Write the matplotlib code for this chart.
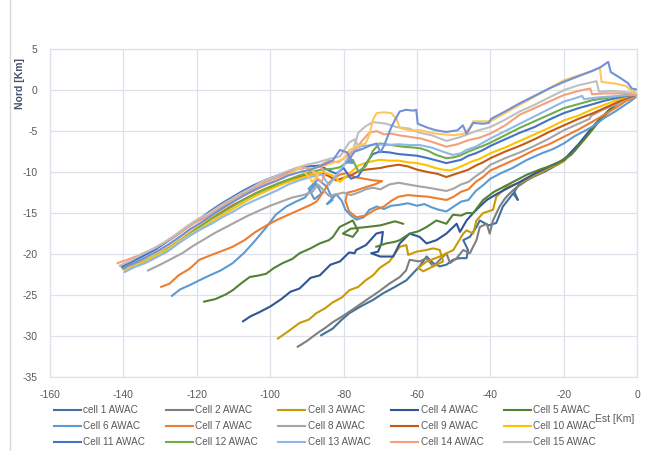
import matplotlib
matplotlib.use("Agg")
import matplotlib.pyplot as plt
from matplotlib.lines import Line2D
import numpy as np

nan = np.nan

# lower group
x1 = [-86.1,-83,-80.5,-78.4,-75,-72,-69.3,-66,-62.9,-61,-59.3,-57.4,-55.6,-53.8,-52,-50.2,-48.4,-46.5,-46.1,-47.4,-45.6,-43.8,-42.9,-40.5,-38.4,-36.6,-33.8,-32.5,-33.5,-31.9,-29,-25,-21,-17,-13,-9.5,-6.5,-3.5,-1.5]
y1 = [-29.9,-29.1,-28.0,-27.2,-26.3,-25.6,-24.8,-24.0,-23.2,-22.3,-21.5,-20.3,-21.1,-21.5,-21.3,-20.7,-20.5,-20.5,-19.5,-18.3,-17.9,-16.7,-15.9,-16.5,-16.2,-14.2,-12.6,-13.4,-12.4,-11.3,-10.7,-9.9,-8.9,-7.4,-5.2,-3.3,-2.0,-0.9,-0.4]

x2 = [-92.5,-90,-87,-85,-82.9,-80,-77,-73.8,-70.5,-67.5,-64.7,-63,-62,-59.3,-57.4,-55.6,-53.8,-52,-51,-49.2,-47.4,-45.6,-43.8,-42.9,-41,-40.2,-39.3,-37.5,-36,-34.5,-33,-30,-26,-22,-18,-14,-10,-7,-4,-1.5]
y2 = [-31.3,-30.6,-29.6,-29.0,-28.3,-27.5,-26.6,-25.6,-24.6,-23.6,-22.8,-22.0,-20.7,-20.9,-20.5,-21.5,-20.7,-19.9,-21.1,-20.5,-19.5,-19.9,-18.3,-16.7,-16.3,-17.5,-15.9,-14.2,-13.2,-12.5,-11.9,-11.0,-10.0,-9.1,-7.9,-5.7,-3.5,-2.2,-1.0,-0.4]

x3 = [-97.9,-95,-92,-89.5,-87.4,-85,-83,-80.5,-78.4,-76,-74,-72,-70.2,-67.5,-64.7,-62.9,-62.4,-60.1,-57.4,-55.6,-53.8,-52.9,-55.6,-58.3,-59.7,-57.4,-53.8,-50.1,-47.4,-46.5,-44.7,-43.8,-42,-39.3,-38.4,-35.6,-31.9,-28,-24,-20,-16,-12,-9,-6,-3,-1]
y3 = [-30.3,-29.4,-28.4,-28.0,-27.2,-26.6,-25.9,-25.3,-24.4,-24.0,-23.2,-22.6,-21.7,-20.9,-19.1,-18.9,-20.1,-19.7,-19.5,-19.3,-19.5,-20.9,-21.5,-22.1,-21.7,-20.9,-20.3,-19.5,-17.5,-17.1,-17.5,-15.9,-15.0,-14.6,-13.0,-11.8,-11.3,-10.4,-9.5,-8.7,-6.8,-4.6,-3.2,-1.9,-0.8,-0.4]

x4 = [-107.4,-105.4,-103,-100,-97,-94.5,-92,-89,-86.5,-83.6,-81,-78.5,-77,-76.6,-73.9,-71.1,-69.3,-69.7,-70.6,-72.5,-70,-66.5,-64.7,-62,-59.3,-57.4,-54.7,-52,-49.2,-48.3,-46.5,-44.7,-42.9,-41,-38,-35,-32,-28,-24,-20,-16,-12,-9,-6,-3,-1]
y4 = [-28.2,-27.6,-27.1,-26.4,-25.5,-24.6,-24.2,-22.9,-22.6,-21.3,-20.9,-19.8,-19.9,-19.5,-18.9,-17.5,-17.3,-18.7,-19.7,-19.9,-20.3,-20.3,-18.7,-17.5,-17.9,-18.7,-18.3,-17.5,-16.3,-17.3,-15.9,-15.0,-14.2,-13.4,-12.6,-11.9,-11.2,-10.2,-9.3,-8.5,-6.6,-4.4,-3.0,-1.8,-0.7,-0.3]

x5 = [-118,-115,-112,-110.2,-108,-105.6,-103,-101.1,-99,-96.6,-94,-92,-89,-86.5,-84,-82.9,-81.1,-77.5,-76.1,-77.5,-80.2,-78,-73.8,-70,-68.4,-66,-63.8,
      nan,
      -71.1,-68.4,-66,-64.7,-62,-59.5,-57.4,-54.7,-52,-50.2,-48,-46.5,-44.7,-42,-39,-36,-33,-30,-26,-22,-18,-14,-11,-8,-5,-2.5,-0.8]
y5 = [-25.8,-25.5,-24.9,-24.4,-23.6,-22.8,-22.6,-22.4,-21.7,-21.1,-20.6,-19.9,-19.3,-18.7,-18.3,-17.9,-16.7,-15.9,-17.1,-17.9,-17.5,-16.9,-16.7,-16.5,-16.3,-16.0,-16.3,
      nan,
      -19.1,-18.7,-18.5,-18.3,-17.5,-17.2,-16.7,-15.9,-16.3,-15.2,-15.3,-15.0,-15.0,-13.4,-12.4,-11.7,-11.0,-10.3,-9.6,-9.0,-7.8,-5.8,-4.1,-2.6,-1.3,-0.5,-0.2]

# upper group
x6 = [-126.8,-124.5,-122,-119.3,-116.5,-113.5,-110.2,-107,-104,-101,-98.5,-95.6,-93,-90.5,-89,-87.5,-86,-88,-89.5,-87,-84.5,-83,-84.5,-82,-80.5,-79.5,-78,-76.5,-74.5,-73,-71,-69,-67,-65,-62.5,-60,-58,-56,-54,-52,-50,-48,-46,-44,-42,-40,-37,-34,-30,-26,-23,-20,-17,-14,-12,-9,-6,-4,-2,-0.5]
y6 = [-25.1,-24.3,-23.8,-23.2,-22.6,-22.0,-21.1,-19.8,-18.3,-16.7,-15.2,-14.2,-13.6,-13.1,-12.2,-11.4,-12.6,-13.3,-12.0,-10.9,-11.8,-13.4,-13.9,-12.7,-13.5,-14.6,-15.3,-15.8,-15.5,-14.6,-14.2,-14.5,-14.1,-14.0,-13.8,-14.1,-13.9,-14.3,-14.6,-14.8,-14.2,-13.6,-13.4,-12.3,-11.6,-10.8,-10.1,-9.5,-8.5,-7.7,-7.2,-6.5,-5.6,-4.9,-4.4,-3.4,-2.6,-2.0,-1.4,-0.9]

x7 = [-129.7,-127.4,-125,-122,-119.3,-116,-113,-110.2,-107,-104,-101,-98,-95,-92,-89,-87.4,-85.5,-84,-82.5,-81,-79,-77,-74.5,-72,-69.5,-71.5,-74.5,-77,-79,-79.5,-78.5,-76.5,-74,-71.5,-69,-67,-65,-62.5,-60,-57,-54.5,-52,-50,-48,-46,-44,-42,-40,-36,-32,-28,-24,-20,-16,-12,-9,-6,-3,-0.5]
y7 = [-24.0,-23.6,-22.6,-21.8,-20.7,-20.1,-19.6,-19.1,-18.3,-17.3,-16.5,-15.8,-15.2,-14.6,-14.0,-13.6,-12.4,-11.3,-10.7,-10.3,-10.1,-10.6,-10.8,-11.0,-11.1,-11.5,-11.9,-12.3,-12.5,-13.5,-14.8,-15.5,-15.3,-14.6,-14.2,-13.5,-13.0,-12.8,-12.9,-13.0,-13.2,-13.4,-13.0,-12.4,-12.1,-11.2,-10.6,-9.8,-9.0,-8.2,-7.3,-6.6,-5.7,-4.8,-3.8,-3.0,-2.2,-1.3,-0.8]

x8 = [-133.3,-130,-127,-124,-121,-118,-115,-112,-109,-106,-103,-100,-97,-94,-91,-88.5,-87,-85.5,-84,-82,-80,-78,-76,-74,-72,-70,-67.5,-65,-62.5,-60,-57,-54.5,-52,-50,-48,-46,-44,-42,-40,-36,-32,-28,-24,-20,-16,-13,-12.5,-9,-6,-3,-0.5]
y8 = [-22.0,-21.3,-20.6,-19.9,-19.0,-18.2,-17.4,-16.7,-16.0,-15.3,-14.7,-14.1,-13.6,-13.1,-12.8,-12.4,-11.5,-12.2,-12.9,-12.7,-12.5,-12.8,-12.5,-12.1,-11.9,-12.1,-11.5,-11.3,-11.5,-11.7,-11.9,-12.1,-12.3,-12.0,-11.5,-11.2,-10.5,-9.9,-9.1,-8.3,-7.6,-6.8,-5.9,-4.9,-4.1,-3.5,-3.1,-2.3,-1.8,-1.1,-0.7]

x9 = [-140.2,-137,-134,-131,-128,-125,-122,-119,-116,-113,-110,-107,-104,-101,-98,-95,-92,-89,-86,-84,-82,-80,-78,-76,-74,-72,-70,-68,-65,-62.5,-60,-57,-54.5,-52,-50,-48,-46,-44,-42,-40,-36,-32,-28,-24,-20,-16,-12,-9,-6,-3,-0.5]
y9 = [-21.7,-21.1,-20.5,-19.8,-19.1,-18.2,-17.3,-16.4,-15.6,-14.8,-14.0,-13.3,-12.6,-12.0,-11.5,-11.0,-10.6,-10.3,-10.1,-10.5,-11.0,-10.7,-10.4,-9.9,-9.7,-9.6,-9.5,-9.3,-9.1,-9.3,-9.7,-10.0,-10.2,-10.6,-10.3,-10.0,-9.7,-9.2,-8.8,-8.3,-7.5,-6.8,-6.0,-5.1,-4.3,-3.5,-2.8,-2.2,-1.6,-1.0,-0.6]

x10 = [-139.5,-136.5,-133.5,-130.5,-127.5,-124.5,-121.5,-118.5,-115.5,-112.5,-109.5,-106.5,-103.5,-100.5,-97.5,-94.5,-91.5,-88.5,-85.5,-83,-81,-79.5,-78,-76,-73.5,-70.2,-67.5,-65,-62.5,-60,-57,-55,-53,-51,-49,-47,-45,-43,-40,-36,-32,-28,-24,-20,-16,-12,-9,-6,-3,-0.5]
y10 = [-22.0,-21.4,-20.8,-20.1,-19.4,-18.5,-17.6,-16.8,-15.9,-15.1,-14.3,-13.5,-12.8,-12.2,-11.6,-11.1,-10.7,-10.3,-10.0,-10.4,-11.2,-10.6,-10.0,-9.2,-8.8,-8.5,-8.6,-8.6,-8.8,-8.9,-9.2,-9.5,-9.7,-9.8,-9.5,-9.1,-8.7,-8.4,-7.7,-7.0,-6.2,-5.4,-4.6,-3.7,-3.1,-2.3,-1.8,-1.3,-0.8,-0.5]

x11 = [-140.5,-137.5,-134.5,-131.5,-128.5,-125.5,-122.5,-119.5,-116.5,-113.5,-110.5,-107.5,-104.5,-101.5,-98.5,-95.5,-92.5,-89.5,-86.5,-84,-82,-80,-78,-76,-74,-72,-70.2,-67.5,-65,-62.5,-60,-57,-54.5,-52,-50,-48,-46,-44,-42,-40,-36,-32,-28,-24,-20,-16,-12,-9,-6,-3,-0.5]
y11 = [-21.5,-20.9,-20.2,-19.5,-18.6,-17.7,-16.7,-15.8,-14.8,-13.9,-13.1,-12.3,-11.6,-11.0,-10.5,-10.0,-9.6,-9.3,-9.2,-9.8,-10.2,-9.5,-10.8,-10.5,-9.0,-7.8,-7.5,-7.6,-7.8,-7.9,-8.0,-8.3,-8.6,-8.9,-8.7,-8.5,-8.0,-7.7,-7.3,-6.8,-6.0,-5.2,-4.5,-3.6,-2.8,-2.2,-1.7,-1.3,-1.0,-0.7,-0.6]

x12 = [-140,-137,-134,-131,-128,-125,-122,-119,-116,-113,-110,-107,-104,-101,-98,-95,-92,-89,-86,-83,-81,-79,-77.5,-76,-74,-72,-70.2,-67,-63.8,-61,-59,-57,-54.8,-52,-50,-48.4,-46,-43.8,-42,-40,-36,-32,-28,-24,-20,-16,-12,-9,-6,-3,-0.5]
y12 = [-21.8,-21.2,-20.6,-19.9,-19.2,-18.3,-17.4,-16.6,-15.7,-14.9,-14.1,-13.3,-12.6,-12.0,-11.4,-10.9,-10.4,-10.0,-9.7,-9.6,-9.4,-8.8,-8.5,-9.9,-9.3,-7.4,-6.5,-6.7,-6.9,-7.0,-7.1,-7.4,-7.9,-8.3,-8.2,-8.0,-7.5,-7.1,-6.8,-6.4,-5.5,-4.6,-3.8,-3.0,-2.2,-1.7,-1.2,-1.0,-0.8,-0.6,-0.5]

x13 = [-139.7,-137,-134,-131,-128,-125,-122,-119,-116,-113,-110,-107,-104,-101,-98,-95,-92,-89,-86,-84,-82,-80,-78,-76.6,-74,-71,-68.4,-65,-62,-59.3,-56,-53,-50.3,-48,-46.6,-44,-42,-40,-36,-32,-28,-24,-20,-17,-15,-14.5,-11,-8,-5,-2.5,-0.5]
y13 = [-22.2,-21.6,-21.1,-20.4,-19.7,-18.7,-17.8,-17.0,-16.3,-15.5,-14.8,-14.0,-13.4,-12.8,-12.2,-11.5,-11.0,-10.6,-10.3,-11.6,-10.4,-9.2,-7.6,-6.9,-6.8,-6.6,-6.7,-6.6,-6.7,-6.7,-7.0,-7.5,-7.9,-7.7,-7.3,-6.9,-6.4,-5.9,-5.0,-4.1,-3.2,-2.3,-1.4,-1.0,-0.7,-1.1,-0.9,-0.8,-0.7,-0.6,-0.6]

x14 = [-141.6,-139,-136,-133,-130,-127,-124,-121,-118,-115,-112,-109,-106,-103,-100,-97,-94,-91,-89,-87.5,-86,-85,-86.5,-84,-81.5,-79,-77,-75,-73,-71,-69,-67,-65,-62,-59,-56,-52,-49,-46,-43,-40,-36,-32,-28,-24,-20,-16,-12.8,-12.3,-9,-6,-3,-0.5]
y14 = [-21.1,-20.7,-20.2,-19.6,-18.9,-18.1,-17.2,-16.3,-15.6,-14.8,-13.9,-13.0,-12.3,-11.6,-11.0,-10.5,-9.9,-9.4,-9.6,-10.6,-11.2,-10.2,-9.2,-8.6,-8.8,-8.0,-7.4,-6.2,-5.2,-5.0,-5.4,-5.3,-5.5,-5.7,-5.9,-6.3,-6.9,-6.6,-6.1,-5.8,-5.3,-4.3,-3.0,-2.2,-1.4,-0.6,-0.1,0.2,-0.5,-0.4,-0.4,-0.4,-0.5]

x15 = [-141,-138,-135,-132,-129,-126,-123,-120,-117,-114,-111,-108,-105,-102,-99,-96,-93,-90,-87,-84,-81,-78.5,-77,-75.5,-77.5,-76,-74,-72,-70,-68.4,-65.6,-62,-59.3,-56,-52,-48,-44,-40,-36,-32,-28,-24,-20,-16,-13,-11.1,-10.4,-7,-4,-2,-0.5]
y15 = [-21.4,-20.8,-20.0,-19.4,-18.6,-17.7,-16.7,-15.8,-15.1,-14.2,-13.4,-12.6,-11.9,-11.1,-10.6,-10.0,-9.5,-9.1,-8.8,-8.4,-8.1,-6.4,-6.0,-7.2,-7.4,-5.2,-4.4,-3.9,-4.0,-4.1,-4.5,-4.7,-5.2,-5.5,-6.2,-5.7,-5.0,-4.5,-3.6,-2.6,-1.8,-0.9,0.0,0.6,0.9,1.1,-0.2,-0.1,-0.2,-0.3,-0.4]

# two more tracks drawn in the chart but not listed in its legend
xa = [-139,-136,-133,-130,-127,-124,-121,-118,-115,-112,-109,-106,-103,-100,-97,-94,-92,-90,-88.5,-87,-89,-86,-83,-80,-78.4,-76,-74,-73,-72,-71,-69,-67,-65.5,-64.7,-62,-59,-55,-50,-47,-45.5,-44.7,-42,-40,-36,-32,-28,-24,-20,-16,-13,-10.2,-9.7,-6,-3,-1.5,-0.5]
ya = [-21.6,-20.9,-20.3,-19.6,-18.8,-17.9,-16.9,-16.0,-15.1,-14.2,-13.3,-12.6,-12.0,-11.4,-10.8,-10.1,-9.4,-10.3,-11.2,-10.4,-9.6,-9.3,-8.9,-8.4,-7.3,-6.8,-6.5,-5.5,-3.6,-2.8,-2.7,-2.8,-3.6,-4.6,-4.9,-4.9,-5.3,-5.5,-5.3,-4.5,-3.8,-3.8,-3.8,-2.8,-1.8,-0.8,0.2,1.2,1.8,2.2,2.7,1.0,0.8,0.5,-0.1,-0.3]

xb = [-140,-137,-134,-131,-128,-125,-122,-119,-116,-113,-110,-107,-104,-101,-98,-95,-92,-89,-86,-83,-81,-79,-77.5,-79,-77,-75,-73,-71,-70,-69,-67,-65.6,-64.7,-63,-61,-60.2,-59.8,-57,-54.8,-52,-49,-47.5,-46.5,-45.5,-44.7,-42,-40.5,-39.8,-36,-32,-28,-24,-20,-16,-12,-10,-7.9,-7.2,-5,-2.5,-1.5,-0.3]
yb = [-21.7,-21.1,-20.4,-19.7,-18.9,-18.0,-17.0,-16.2,-15.3,-14.4,-13.6,-12.8,-12.1,-11.5,-11.0,-10.4,-10.0,-9.7,-9.2,-8.6,-7.3,-7.6,-8.9,-8.8,-7.5,-7.2,-6.8,-6.5,-7.6,-6.8,-4.5,-3.3,-2.6,-2.4,-2.5,-2.4,-4.1,-4.6,-4.9,-5.1,-4.9,-4.3,-5.3,-4.6,-4.0,-4.1,-4.0,-3.5,-2.6,-1.6,-0.7,0.2,1.0,1.7,2.4,2.8,3.45,2.2,1.6,0.85,0.2,0.1]

labels = ["cell 1 AWAC", "Cell 2 AWAC", "Cell 3 AWAC", "Cell 4 AWAC", "Cell 5 AWAC",
          "Cell 6 AWAC", "Cell 7 AWAC", "Cell 8 AWAC", "Cell 9 AWAC", "Cell 10 AWAC",
          "Cell 11 AWAC", "Cell 12 AWAC", "Cell 13 AWAC", "Cell 14 AWAC", "Cell 15 AWAC"]
colors = ['#41719C', '#7F7F7F', '#C99A06', '#2F5597', '#548235',
          '#5B9BD5', '#ED7D31', '#A5A5A5', '#C55A11', '#FFC000',
          '#4472C4', '#70AD47', '#8FB8E6', '#F4A07A', '#BFBFBF']
xs = [x1, x2, x3, x4, x5, x6, x7, x8, x9, x10, x11, x12, x13, x14, x15]
ys = [y1, y2, y3, y4, y5, y6, y7, y8, y9, y10, y11, y12, y13, y14, y15]

plt.rcParams['font.family'] = ['Liberation Sans', 'DejaVu Sans']
plt.rcParams['axes.unicode_minus'] = False

fig = plt.figure(figsize=(6.46, 4.51), dpi=100)
ax = fig.add_axes([0.0774, 0.164, 0.909, 0.727])

grid_c = '#DDE1EA'
handles = []
for x, y, c, lab in zip(xs, ys, colors, labels):
    h, = ax.plot(x, y, color=c, lw=1.5, label=lab)
    handles.append(h)
ax.plot(xa, ya, color='#FFC65C', lw=1.5)
ax.plot(xb, yb, color='#7391D8', lw=1.5)

ax.set_xlim(-160, 0)
ax.set_ylim(-35, 5)
ax.set_xticks(range(-160, 1, 20))
ax.set_yticks(range(-35, 6, 5))
ax.grid(True, color=grid_c, lw=0.9)
ax.set_axisbelow(True)
for s in ax.spines.values():
    s.set_color(grid_c)
    s.set_linewidth(0.9)
ax.tick_params(length=0, labelsize=7.5, labelcolor='#595959', pad=9)

fig.text(0.031, 0.814, 'Nord [Km]', rotation=90, fontsize=7.5, fontweight='bold',
         color='#44546A', ha='center', va='center')
fig.text(0.952, 0.071, 'Est [Km]', fontsize=7.5, color='#595959', ha='center', va='center')

# legend is filled row by row in the reference
order = [0, 5, 10, 1, 6, 11, 2, 7, 12, 3, 8, 13, 4, 9, 14]
leg_h = [handles[i] for i in order]
fig.legend(handles=leg_h, labels=[labels[i] for i in order], ncol=5, loc='upper left',
           bbox_to_anchor=(0.083, 0.101), frameon=False, fontsize=7.2, handlelength=2.7,
           handletextpad=0.25, columnspacing=2.05, labelspacing=0.6, borderpad=0,
           borderaxespad=0, labelcolor='#595959')

fig.add_artist(Line2D([10 / 646, 10 / 646], [0, 1], color='#D9D9D9', lw=1))

fig.savefig('out.png', dpi=100)
